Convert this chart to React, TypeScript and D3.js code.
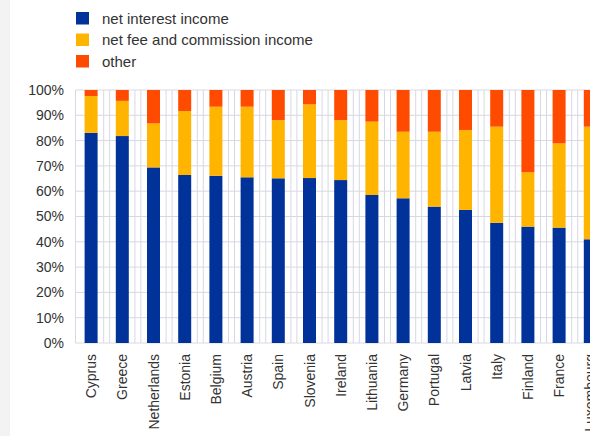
import React from "react";
import * as d3 from "d3";

const categories = ["Cyprus","Greece","Netherlands","Estonia","Belgium","Austria","Spain","Slovenia","Ireland","Lithuania","Germany","Portugal","Latvia","Italy","Finland","France","Luxembourg"];
const netInterest = [83.1,81.8,69.4,66.4,66.1,65.5,65.1,65.2,64.4,58.5,57.2,53.9,52.6,47.5,46.0,45.6,41.0];
const netFee = [14.5,13.9,17.4,25.3,27.3,27.9,23.0,29.1,23.7,29.0,26.3,29.6,31.6,38.0,21.5,33.3,44.5];
const other = netInterest.map((v, i) => 100 - v - netFee[i]);
const yTicks = [0,10,20,30,40,50,60,70,80,90,100];
const seriesNames = ["net interest income","net fee and commission income","other"];
const seriesColors = ["#003299","#FFB400","#FF4B00"];

export default function App() {
  const W = 590, H = 436;
  const left = 75.5, step = 31.2;
  const x = d3.scaleBand<string>().domain(categories).range([left, left + step * categories.length]).padding(0);
  const y = d3.scaleLinear().domain([0, 100]).range([343, 90]);
  const bw = 13;
  const series = [netInterest, netFee, other];
  const stacked = categories.map((c, i) => {
    let acc = 0;
    return series.map((s, k) => {
      const y0 = acc;
      acc += s[i];
      return { y0, y1: acc, k };
    });
  });
  const font = "Arial, 'Liberation Sans', sans-serif";
  const grid = "#d8d8e4";
  return (
    <svg width={W} height={H} style={{ position: "absolute", left: 0, top: 0, background: "#fff" }}>
      <rect x={0} y={0} width={10} height={H} fill="#f3f3f3" />
      {yTicks.map(t => (
        <line key={"h" + t} x1={left} x2={W} y1={y(t)} y2={y(t)} stroke={grid} strokeWidth={1} />
      ))}
      <line x1={left} x2={left} y1={y(100)} y2={y(0)} stroke={grid} strokeWidth={1} />
      {categories.slice(1).map(c => {
        const b = x(c)!;
        return (
          <g key={"v" + c}>
            <line x1={b - 3} x2={b - 3} y1={y(100)} y2={y(0)} stroke={grid} strokeWidth={1} />
            <line x1={b + 3} x2={b + 3} y1={y(100)} y2={y(0)} stroke={grid} strokeWidth={1} />
          </g>
        );
      })}
      {categories.map((c, i) => {
        const cx = x(c)! + x.bandwidth() / 2;
        return stacked[i].map(seg => (
          <rect key={c + seg.k} x={cx - bw / 2} width={bw} y={y(seg.y1)} height={y(seg.y0) - y(seg.y1)} fill={seriesColors[seg.k]} />
        ));
      })}
      {yTicks.map(t => (
        <text key={"yl" + t} x={64} y={y(t)} dy="0.35em" textAnchor="end" fontSize={14} fontFamily={font} fill="#333">{t + "%"}</text>
      ))}
      {categories.map(c => {
        const cx = x(c)! + x.bandwidth() / 2;
        return (
          <text key={"xl" + c} transform={`translate(${cx + 5},354) rotate(-90)`} textAnchor="end" fontSize={14} fontFamily={font} fill="#333">{c}</text>
        );
      })}
      {seriesNames.map((n, k) => (
        <g key={n} transform={`translate(76,${12 + k * 21.5})`}>
          <rect x={0} y={0} width={13} height={12.5} fill={seriesColors[k]} />
          <text x={26} y={6.5} dy="0.35em" fontSize={15} fontFamily={font} fill="#333">{n}</text>
        </g>
      ))}
    </svg>
  );
}
